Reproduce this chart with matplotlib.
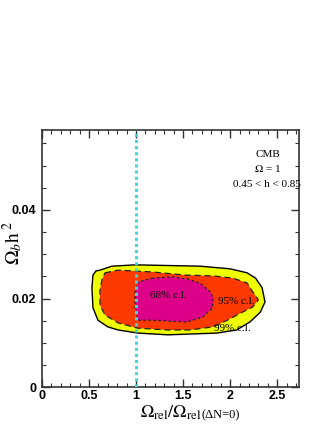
import matplotlib
matplotlib.use("Agg")
import matplotlib.pyplot as plt
from matplotlib.ticker import MultipleLocator

plt.rcParams['mathtext.fontset'] = 'stix'

# contour outlines (x = Omega_rel ratio, y = Omega_b h^2)
c99_x = [0.617, 0.745, 0.989, 1.68, 2.00, 2.18, 2.27, 2.34, 2.37, 2.32, 2.21, 2.07,
         1.86, 1.34, 1.02, 0.81, 0.70, 0.596, 0.543, 0.532, 0.543, 0.574]
c99_y = [0.0264, 0.0273, 0.0276, 0.0273, 0.0267, 0.0258, 0.0246, 0.0224, 0.0192,
         0.0169, 0.0147, 0.0129, 0.0122, 0.0118, 0.0122, 0.0129, 0.0136, 0.0151,
         0.0179, 0.0224, 0.0253, 0.0262]

c95_x = [0.670, 0.809, 1.17, 1.52, 1.82, 2.03, 2.18, 2.24, 2.30, 2.24, 2.11, 1.97,
         1.82, 1.57, 1.34, 1.02, 0.809, 0.670, 0.617, 0.617, 0.638]
c95_y = [0.0258, 0.0264, 0.0260, 0.0253, 0.0251, 0.0246, 0.0235, 0.0215, 0.0197,
         0.0181, 0.0167, 0.0151, 0.0136, 0.0129, 0.0129, 0.0133, 0.0145, 0.0163,
         0.0185, 0.0219, 0.0242]

c68_x = [1.17, 1.38, 1.55, 1.68, 1.79, 1.82, 1.81, 1.71, 1.54, 1.17, 1.02, 0.989,
         0.989, 1.02]
c68_y = [0.0246, 0.0249, 0.0244, 0.0235, 0.0215, 0.0201, 0.0179, 0.0158, 0.0147,
         0.0151, 0.0151, 0.0179, 0.0215, 0.0237]

x_ticks = [0, 0.5, 1, 1.5, 2, 2.5]
x_tick_labels = ["0", "0.5", "1", "1.5", "2", "2.5"]
y_ticks = [0, 0.02, 0.04]
y_tick_labels = ["0", "0.02", "0.04"]

fig = plt.figure(figsize=(3.27, 4.24), dpi=100)
ax = fig.add_axes([0.128, 0.087, 0.786, 0.606])

ax.fill(c99_x, c99_y, color='#eeff00', ec='black', lw=1.0, zorder=1)
ax.fill(c95_x, c95_y, color='#ff3a00', ec='#222222', lw=0.9, ls=(0, (5, 3)), zorder=2)
ax.fill(c68_x, c68_y, color='#dd0088', ec='#222222', lw=0.9, ls=(0, (2, 2)), zorder=3)

ax.axvline(1.0, color='#40d8e0', lw=2.2, ls=(0, (1, 1)), zorder=4)

serif = 'Liberation Serif'
ax.text(1.34, 0.0206, "68% c.l.", family=serif, fontsize=8, ha='center', va='center', zorder=5)
ax.text(2.07, 0.0194, "95% c.l.", family=serif, fontsize=8, ha='center', va='center', zorder=5)
ax.text(2.02, 0.0133, "99% c.l.", family=serif, fontsize=8, ha='center', va='center', zorder=5)

ax.text(2.4, 0.0525, "CMB", family=serif, fontsize=8, ha='center', va='center')
ax.text(2.4, 0.0494, r"$\Omega$ = 1", family=serif, fontsize=8, ha='center', va='center')
ax.text(2.39, 0.0458, "0.45 < h < 0.85", family=serif, fontsize=8, ha='center', va='center')

ax.set_xlim(0, 2.73)
ax.set_ylim(0, 0.058)
ax.set_xticks(x_ticks)
ax.set_xticklabels(x_tick_labels, family='Liberation Sans', fontweight='bold', fontsize=9)
ax.set_yticks(y_ticks)
ax.set_yticklabels(y_tick_labels, family='Liberation Sans', fontweight='bold', fontsize=9)
ax.xaxis.set_minor_locator(MultipleLocator(0.1))
ax.yaxis.set_minor_locator(MultipleLocator(0.005))
ax.tick_params(which='both', direction='in', top=True, right=True, color='#333333')
ax.tick_params(which='major', length=6, width=1, pad=4)
ax.tick_params(axis='x', which='major', pad=2)
ax.tick_params(which='minor', length=3, width=0.8)
for s in ax.spines.values():
    s.set_linewidth(1.2)
    s.set_color('#333333')

# y label
fig.text(13 / 327, 1 - 243 / 424, r"$\Omega_{b}\mathrm{h}^{\ 2}$", fontsize=14,
         rotation=90, ha='center', va='center')

# x label: main part plus smaller (ΔN=0)
fig.canvas.draw()
main = fig.text(140 / 327, 0.016, r"$\Omega_{\rm rel}/\Omega_{\rm rel}$", fontsize=13,
                ha='left', va='baseline')
bb = main.get_window_extent(fig.canvas.get_renderer())
x_end = fig.transFigure.inverted().transform((bb.x1, bb.y0))[0]
fig.text(x_end, 0.014, "(ΔN=0)", family=serif, fontsize=9, ha='left', va='baseline')

fig.savefig("out.png", dpi=100)
